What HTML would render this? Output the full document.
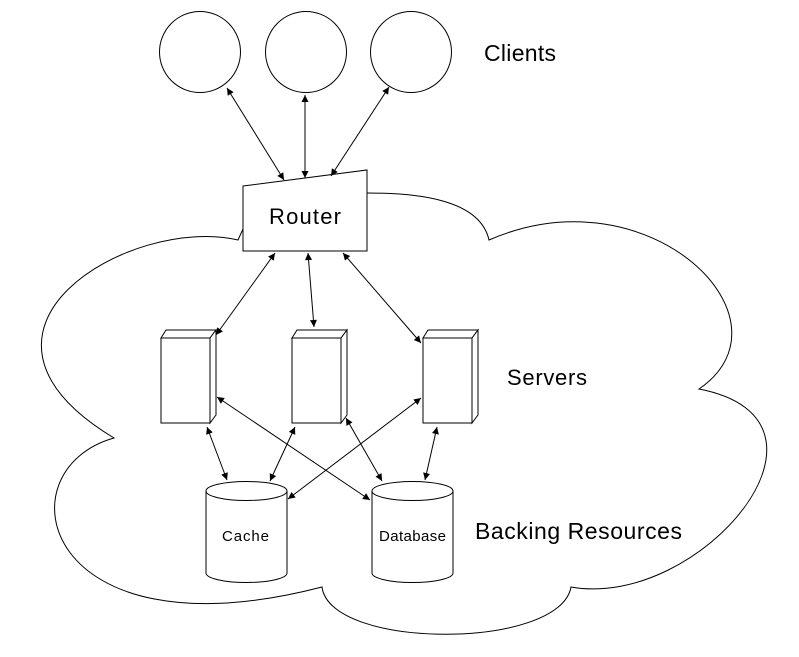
<!DOCTYPE html>
<html><head><meta charset="utf-8"><style>
html,body{margin:0;padding:0;background:#fff;}
svg{display:block;}
text{font-family:"Liberation Sans",Helvetica,Arial,sans-serif;fill:#000;}
</style></head><body>
<svg width="799" height="657" viewBox="0 0 799 657" xmlns="http://www.w3.org/2000/svg">
<defs>
<marker id="a" viewBox="0 0 10 10" refX="10" refY="5" markerWidth="9" markerHeight="7" markerUnits="userSpaceOnUse" orient="auto-start-reverse">
<path d="M0,0 L10,5 L0,10 z" fill="#000"/>
</marker>
</defs>
<g fill="none" stroke="#000" stroke-width="1">
<path d="M243,229 L238,240 C130,215 -65,330 114,438 C0,470 40,660 322,587 C330,650 560,650 571,587 C700,610 860,420 699,389 C800,320 650,170 489,240 C480,200 420,193 367,193" fill="#fff"/>
<circle cx="200" cy="52" r="40.5"/>
<circle cx="306" cy="52" r="40.5"/>
<circle cx="411" cy="52" r="40.5"/>
<polygon points="243,186 367,170 367,251 243,251" fill="#fff"/>
<g fill="#fff">
<rect x="161" y="338" width="49" height="85"/>
<polygon points="161,338 166,330 216,330 210,338"/>
<polygon points="210,338 216,330 216,415 210,423"/>
<rect x="292" y="338" width="49" height="85"/>
<polygon points="292,338 297,330 347,330 341,338"/>
<polygon points="341,338 347,330 347,415 341,423"/>
<rect x="423" y="338" width="49" height="85"/>
<polygon points="423,338 428,330 478,330 472,338"/>
<polygon points="472,338 478,330 478,415 472,423"/>
</g>
<path d="M206,491 L206,573 A40.5,9.5 0 0 0 287,573 L287,491" fill="#fff"/>
<ellipse cx="246.5" cy="491" rx="40.5" ry="9.5" fill="#fff"/>
<path d="M372,491 L372,573 A40.5,9.5 0 0 0 453,573 L453,491" fill="#fff"/>
<ellipse cx="412.5" cy="491" rx="40.5" ry="9.5" fill="#fff"/>
<g marker-start="url(#a)" marker-end="url(#a)">
<line x1="227" y1="88" x2="284" y2="180"/>
<line x1="305" y1="95" x2="305" y2="178"/>
<line x1="389" y1="87" x2="331" y2="176"/>
<line x1="275" y1="253" x2="216" y2="335"/>
<line x1="308" y1="253" x2="314" y2="327"/>
<line x1="343" y1="253" x2="421" y2="343"/>
<line x1="207" y1="427" x2="227" y2="480"/>
<line x1="217" y1="397" x2="370" y2="500"/>
<line x1="295" y1="427" x2="270" y2="481"/>
<line x1="346" y1="418" x2="382" y2="481"/>
<line x1="421" y1="398" x2="288" y2="499"/>
<line x1="437" y1="427" x2="425" y2="480"/>
</g>
</g>
<text x="484" y="61" font-size="23" textLength="72">Clients</text>
<text x="269" y="224" font-size="22" textLength="72">Router</text>
<text x="507" y="385" font-size="22" textLength="80">Servers</text>
<text x="475" y="539" font-size="23" textLength="207">Backing Resources</text>
<text x="222" y="541" font-size="15" textLength="47">Cache</text>
<text x="379" y="541" font-size="15" textLength="67">Database</text>
</svg>
</body></html>
